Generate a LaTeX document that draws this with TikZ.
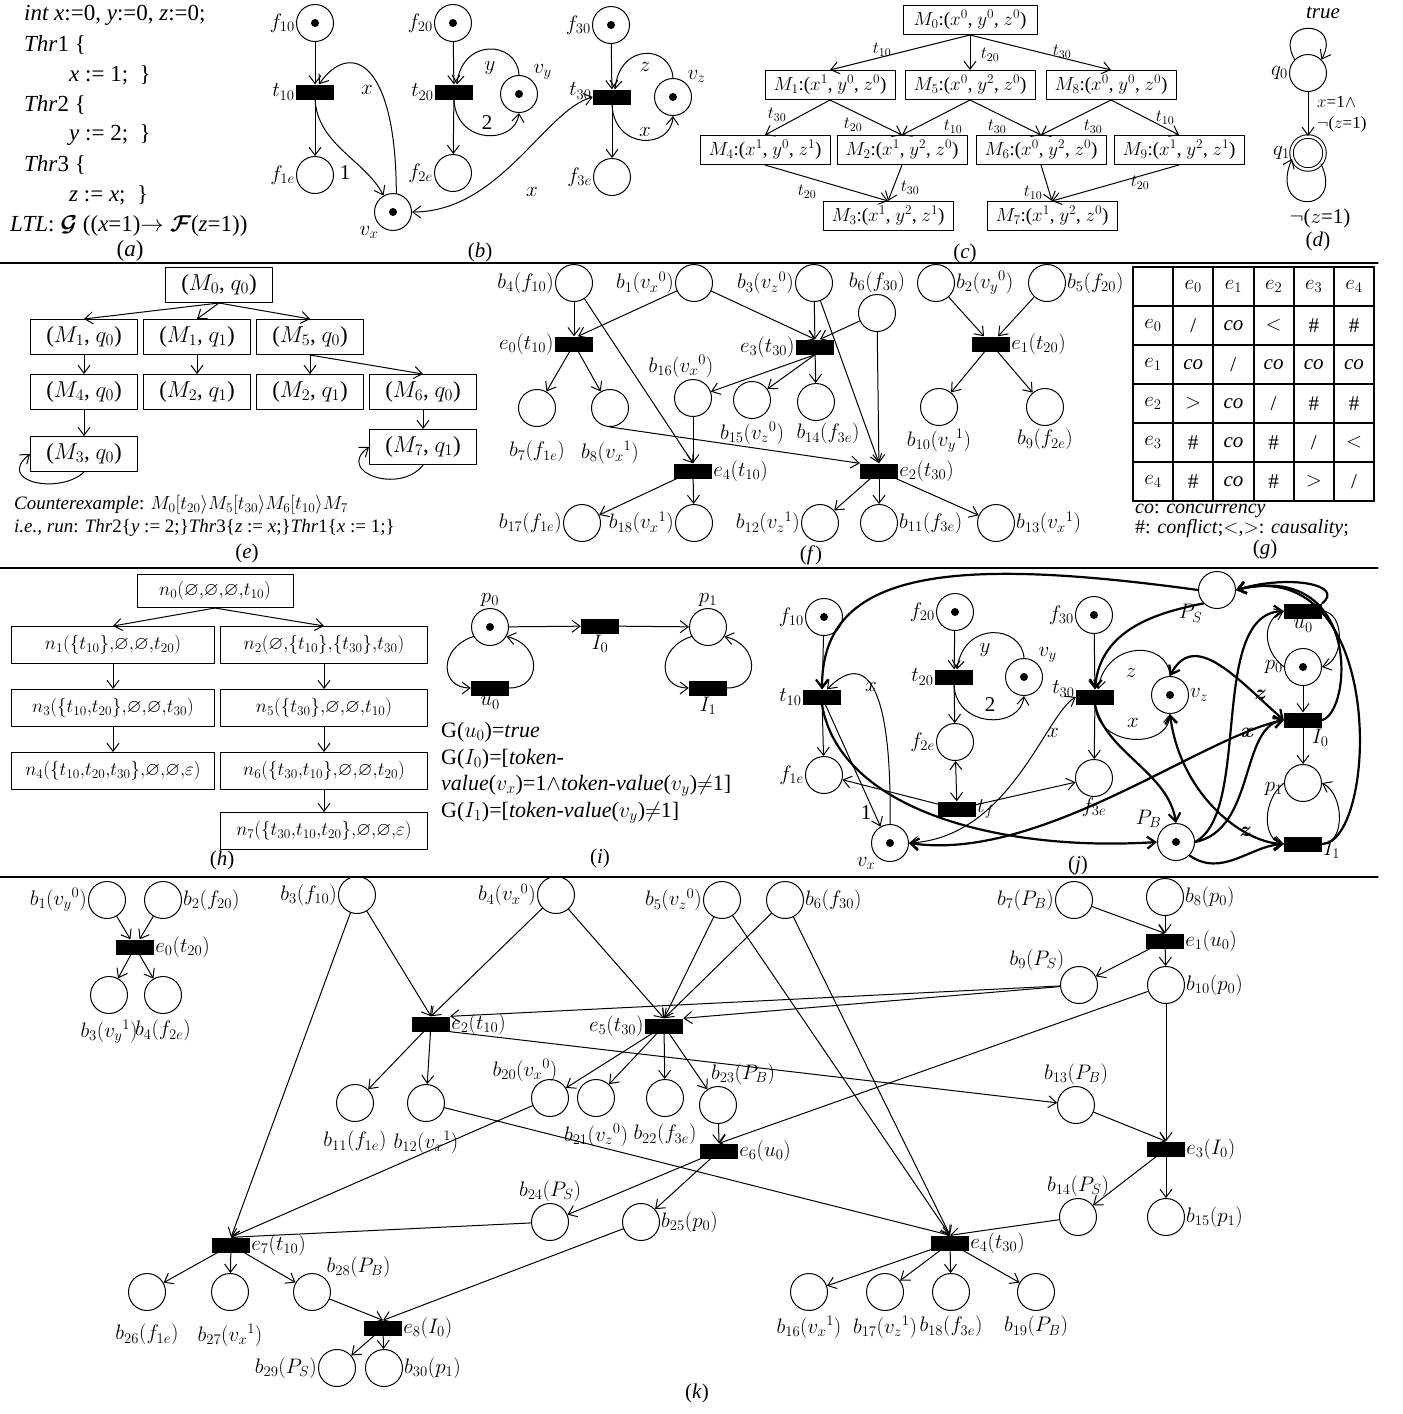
\RequirePackage{fix-cm}
\documentclass[tikz,border=0pt]{standalone}
\usepackage{amsmath,amssymb,bm}
\usepackage{fontspec}
\setmainfont{Liberation Serif}
\usetikzlibrary{arrows.meta}

\tikzset{
  place/.style={circle, draw, line width=1pt, minimum size=37pt, inner sep=0pt},
  marked/.style={place, path picture={\fill (path picture bounding box.center) circle (4pt);}},
  trans/.style={rectangle, fill=black, minimum width=38pt, minimum height=15pt, inner sep=0pt},
  mkbox/.style={rectangle, draw, line width=1pt, minimum height=29pt, inner sep=2pt},
  arc/.style={->, line width=1pt},
  bold arc/.style={->, line width=2.2pt},
  lbl/.style={inner sep=1pt},
  every label/.style={inner sep=1pt},
}

\begin{document}
\begin{tikzpicture}[x=1pt, y=-1pt, font=\fontsize{21}{25}\selectfont, line join=round, line cap=round, >={Straight Barb[length=8pt,width=12pt]}]
\useasboundingbox (0,0) rectangle (1403,1414);

% separators
\draw[line width=1.2pt] (0,263) -- (1378,263);
\draw[line width=1.2pt] (0,568) -- (1378,568);
\draw[line width=1.2pt] (0,877) -- (1378,877);

% (a) program
\begin{scope}[font=\fontsize{23}{26}\selectfont]
\node[lbl, anchor=west] (decl) at (23,15) {\textit{int x}:=0, \textit{y}:=0, \textit{z}:=0;};
\node[lbl, anchor=west] (thr1) at (23,45) {\textit{Thr}1 \{};
\node[lbl, anchor=west] (asg1) at (68,75) {\textit{x} := 1;~~\}};
\node[lbl, anchor=west] (thr2) at (23,105) {\textit{Thr}2 \{};
\node[lbl, anchor=west] (asg2) at (68,135) {\textit{y} := 2;~~\}};
\node[lbl, anchor=west] (thr3) at (23,165) {\textit{Thr}3 \{};
\node[lbl, anchor=west] (asg3) at (68,195) {\textit{z} := \textit{x};~~\}};
\node[lbl, anchor=west] (ltl) at (9,226) {\textit{LTL}: $\boldsymbol{\mathcal{G}}$ ((\textit{x}=1)$\rightarrow\boldsymbol{\mathcal{F}}$(\textit{z}=1))};
\node (capa) at (130,251) {(\textit{a})};
\end{scope}

% (b) net
\node[marked, label=left:$f_{10}$] (bf10) at (315,23) {};
\node[trans, label=left:$t_{10}$] (bt10) at (315,92) {};
\node[place, label=left:$f_{1e}$] (bf1e) at (315,175) {};
\node[marked, label={below left:$v_x$}] (bvx) at (393,212) {};
\node[marked, label=left:$f_{20}$] (bf20) at (453,23) {};
\node[trans, label=left:$t_{20}$] (bt20) at (454,92) {};
\node[marked, label={above right:$v_y$}] (bvy) at (519,94) {};
\node[place, label=left:$f_{2e}$] (bf2e) at (453,173) {};
\node[marked, label=left:$f_{30}$] (bf30) at (611,25) {};
\node[trans, label={[yshift=6pt]left:$t_{30}$}] (bt30) at (612,97) {};
\node[marked, label={above right:$v_z$}] (bvz) at (673,97) {};
\node[place, label=left:$f_{3e}$] (bf3e) at (612,177) {};
\foreach \a/\b in {bf10/bt10, bt10/bf1e, bf20/bt20, bt20/bf2e, bf30/bt30, bt30/bf3e}
  \draw[arc] (\a) -- (\b);
\draw[arc] (bvx.80) .. controls (396,60) and (350,40) .. ([xshift=4pt]bt10.north);
\draw[arc] (bt10.south) .. controls (318,145) and (365,160) .. (bvx.120);
\draw[arc] (bvy.north) .. controls (517,40) and (462,38) .. ([xshift=3pt]bt20.north);
\draw[arc] (bt20.south) .. controls (456,145) and (515,145) .. (bvy.south);
\draw[arc] (bvz.north) .. controls (671,45) and (620,42) .. ([xshift=3pt]bt30.north);
\draw[arc] (bt30.south) .. controls (614,150) and (671,150) .. (bvz.south);
\draw[<->, line width=1pt] (bvx.east) .. controls (500,212) and (545,110) .. (bt30.west);
\node[lbl] (bx1) at (367,90) {$x$};
\node[lbl] (bone) at (345,173) {1};
\node[lbl] (by) at (490,68) {$y$};
\node[lbl] (btwo) at (487,123) {2};
\node[lbl] (bz) at (645,67) {$z$};
\node[lbl] (bx2) at (645,132) {$x$};
\node[lbl] (bx3) at (532,192) {$x$};
\node (capb) at (480,252) {(\textit{b})};

% (c) state space
\begin{scope}[font=\fontsize{19}{22}\selectfont]
\node[mkbox, minimum width=134pt] (cM0) at (970,20) {$M_0$:($x^0$, $y^0$, $z^0$)};
\node[mkbox, minimum width=130pt] (cM1) at (830,85) {$M_1$:($x^1$, $y^0$, $z^0$)};
\node[mkbox, minimum width=130pt] (cM5) at (970,85) {$M_5$:($x^0$, $y^2$, $z^0$)};
\node[mkbox, minimum width=130pt] (cM8) at (1111,85) {$M_8$:($x^0$, $y^0$, $z^0$)};
\node[mkbox, minimum width=130pt] (cM4) at (765,150) {$M_4$:($x^1$, $y^0$, $z^1$)};
\node[mkbox, minimum width=130pt] (cM2) at (902,150) {$M_2$:($x^1$, $y^2$, $z^0$)};
\node[mkbox, minimum width=130pt] (cM6) at (1041,150) {$M_6$:($x^0$, $y^2$, $z^0$)};
\node[mkbox, minimum width=130pt] (cM9) at (1179,150) {$M_9$:($x^1$, $y^2$, $z^1$)};
\node[mkbox, minimum width=130pt] (cM3) at (888,216) {$M_3$:($x^1$, $y^2$, $z^1$)};
\node[mkbox, minimum width=130pt] (cM7) at (1052,216) {$M_7$:($x^1$, $y^2$, $z^0$)};
\end{scope}
\foreach \a/\b in {cM0/cM1, cM0/cM5, cM0/cM8, cM1/cM4, cM1/cM2, cM5/cM2, cM5/cM6, cM8/cM6, cM8/cM9, cM4/cM3, cM2/cM3, cM6/cM7, cM9/cM7}
  \draw[arc] (\a.south) -- (\b.north);
\begin{scope}[font=\fontsize{17}{20}\selectfont]
\node[lbl] (cl1) at (882,50) {$t_{10}$};
\node[lbl] (cl2) at (990,55) {$t_{20}$};
\node[lbl] (cl3) at (1062,52) {$t_{30}$};
\node[lbl] (cl4) at (777,115) {$t_{30}$};
\node[lbl] (cl5) at (853,125) {$t_{20}$};
\node[lbl] (cl6) at (953,127) {$t_{10}$};
\node[lbl] (cl7) at (997,127) {$t_{30}$};
\node[lbl] (cl8) at (1093,127) {$t_{30}$};
\node[lbl] (cl9) at (1165,118) {$t_{10}$};
\node[lbl] (cl10) at (807,192) {$t_{20}$};
\node[lbl] (cl11) at (910,188) {$t_{30}$};
\node[lbl] (cl12) at (1033,193) {$t_{10}$};
\node[lbl] (cl13) at (1140,183) {$t_{20}$};
\end{scope}
\node (capc) at (965,253) {(\textit{c})};

% (d) automaton
\node[place, label=left:$q_0$] (dq0) at (1308,73) {};
\node[place, double, double distance=2.5pt, minimum size=33pt, label=left:$q_1$] (dq1) at (1308,153) {};
\draw[arc] (dq0.135) .. controls (1272,18) and (1344,18) .. (dq0.45);
\draw[arc] (dq0) -- (dq1);
\draw[arc] (dq1.-40) .. controls (1345,215) and (1268,215) .. (dq1.200);
\node[lbl] (dtrue) at (1323,13) {\textit{true}};
\node[lbl, anchor=west, font=\fontsize{17}{20}\selectfont] (dg1) at (1316,102) {$x$=1$\wedge$};
\node[lbl, anchor=west, font=\fontsize{17}{20}\selectfont] (dg2) at (1316,124) {$\neg$($z$=1)};
\node[lbl] (dneg) at (1320,218) {$\neg$($z$=1)};
\node (capd) at (1318,241) {(\textit{d})};

% (e) product
\begin{scope}[font=\fontsize{23}{26}\selectfont]
\node[mkbox, minimum width=107pt, minimum height=35pt] (em0) at (219,285) {($M_0$, $q_0$)};
\node[mkbox, minimum width=107pt, minimum height=35pt] (em1) at (84,337) {($M_1$, $q_0$)};
\node[mkbox, minimum width=107pt, minimum height=35pt] (em1b) at (197,337) {($M_1$, $q_1$)};
\node[mkbox, minimum width=107pt, minimum height=35pt] (em5) at (310,337) {($M_5$, $q_0$)};
\node[mkbox, minimum width=107pt, minimum height=35pt] (em4) at (84,392) {($M_4$, $q_0$)};
\node[mkbox, minimum width=107pt, minimum height=35pt] (em2) at (197,392) {($M_2$, $q_1$)};
\node[mkbox, minimum width=107pt, minimum height=35pt] (em2b) at (310,392) {($M_2$, $q_1$)};
\node[mkbox, minimum width=107pt, minimum height=35pt] (em6) at (423,392) {($M_6$, $q_0$)};
\node[mkbox, minimum width=107pt, minimum height=35pt] (em3) at (84,454) {($M_3$, $q_0$)};
\node[mkbox, minimum width=107pt, minimum height=35pt] (em7) at (423,447) {($M_7$, $q_1$)};
\end{scope}
\foreach \a/\b in {em0/em1, em0/em1b, em0/em5, em1/em4, em1b/em2, em5/em2b, em5/em6, em4/em3, em6/em7}
  \draw[arc] (\a.south) -- (\b.north);
\draw[arc] (em3.south) .. controls (60,495) and (-5,482) .. (em3.west);
\draw[arc] (em7.south) .. controls (400,495) and (335,472) .. (em7.west);
\begin{scope}[font=\fontsize{19}{22}\selectfont]
\node[lbl, anchor=west] (ecex) at (13,505) {\textit{Counterexample}: $M_0[t_{20}\rangle M_5[t_{30}\rangle M_6[t_{10}\rangle M_7$};
\node[lbl, anchor=west] (erun) at (13,528) {\textit{i.e., run}: \textit{Thr}2\{\textit{y} := 2;\}\textit{Thr}3\{\textit{z} := \textit{x};\}\textit{Thr}1\{\textit{x} := 1;\}};
\end{scope}
\node (cape) at (247,553) {(\textit{e})};

% (f) unfolding
\node[place, label=left:$b_4(f_{10})$] (fb4) at (574,283) {};
\node[place, label=left:$b_1(v_x{}^0)$] (fb1) at (694,283) {};
\node[place, label=left:$b_3(v_z{}^0)$] (fb3) at (814,283) {};
\node[place, label=above:$b_6(f_{30})$] (fb6) at (877,313) {};
\node[place, label=right:$b_2(v_y{}^0)$] (fb2) at (936,283) {};
\node[place, label=right:$b_5(f_{20})$] (fb5) at (1047,283) {};
\node[trans, label=left:$e_0(t_{10})$] (fe0) at (574,344) {};
\node[trans, label=left:$e_3(t_{30})$] (fe3) at (815,347) {};
\node[trans, label=right:$e_1(t_{20})$] (fe1) at (991,344) {};
\node[place, label={[label distance=13pt]below:$b_7(f_{1e})$}] (fb7) at (537,408) {};
\node[place, label={[label distance=13pt]below:$b_8(v_x{}^1)$}] (fb8) at (610,408) {};
\node[place, label={[xshift=-12pt]above:$b_{16}(v_x{}^0)$}] (fb16) at (693,398) {};
\node[place, label={[label distance=2pt]below:$b_{15}(v_z{}^0)$}] (fb15) at (752,400) {};
\node[place, label={[label distance=1pt, xshift=12pt]below:$b_{14}(f_{3e})$}] (fb14) at (816,402) {};
\node[place, label={[label distance=2pt]below:$b_{10}(v_y{}^1)$}] (fb10) at (939,407) {};
\node[place, label={[label distance=2pt]below:$b_9(f_{2e})$}] (fb9) at (1045,407) {};
\node[trans, label=right:$e_4(t_{10})$] (fe4) at (693,471) {};
\node[trans, label=right:$e_2(t_{30})$] (fe2) at (879,471) {};
\node[place, label=left:$b_{17}(f_{1e})$] (fb17) at (582,523) {};
\node[place, label=left:$b_{18}(v_x{}^1)$] (fb18) at (694,523) {};
\node[place, label=left:$b_{12}(v_z{}^1)$] (fb12) at (820,523) {};
\node[place, label=right:$b_{11}(f_{3e})$] (fb11) at (879,523) {};
\node[place, label=right:$b_{13}(v_x{}^1)$] (fb13) at (996,523) {};
\foreach \a/\b in {fb4/fe0, fb4/fe4.north, fb1/fe3.north, fb3/fe3, fb3/fe2.north, fb6/fe2,
  fe0/fb7, fe0/fb8, fe3.south/fb16, fe3.south/fb15, fe3/fb14, fb16/fe4, fb8.south/fe2.north west,
  fe4/fb17, fe4/fb18, fe2/fb12, fe2/fb11, fe2/fb13, fb2/fe1, fb5/fe1, fe1/fb10, fe1/fb9}
  \draw[arc] (\a) -- (\b);
\draw[arc] (fb1) -- ([xshift=4pt]fe0.north);
\draw[arc] (fb6) -- ([xshift=5pt]fe3.north);
\node (capf) at (811,555) {(\textit{f})};

% (g) relation table
\foreach \i in {0,...,6} {
  \draw[line width=2pt] (1133+40.2*\i,267) -- (1133+40.2*\i,501);
  \draw[line width=2pt] (1133,267+39*\i) -- (1374.2,267+39*\i);
}
\foreach \c in {1,...,5} {
  \pgfmathtruncatemacro{\k}{\c-1}
  \node (gc\c) at (1153+40.2*\c,286.5) {$e_{\k}$};
  \node (gr\c) at (1153,286.5+39*\c) {$e_{\k}$};
}
\foreach \t [count=\c] in {/,\textit{co},$<$,\#,\#} \node (ga\c) at (1153+40.2*\c,325.5) {\t};
\foreach \t [count=\c] in {\textit{co},/,\textit{co},\textit{co},\textit{co}} \node (gb\c) at (1153+40.2*\c,364.5) {\t};
\foreach \t [count=\c] in {$>$,\textit{co},/,\#,\#} \node (gd\c) at (1153+40.2*\c,403.5) {\t};
\foreach \t [count=\c] in {\#,\textit{co},\#,/,$<$} \node (ge\c) at (1153+40.2*\c,442.5) {\t};
\foreach \t [count=\c] in {\#,\textit{co},\#,$>$,/} \node (gf\c) at (1153+40.2*\c,481.5) {\t};
\begin{scope}[font=\fontsize{20}{22}\selectfont]
\node[lbl, anchor=west] (gco) at (1134,511) {\textit{co}: \textit{concurrency}};
\node[lbl, anchor=west] (gcf) at (1134,529) {\#: \textit{conflict};$<$,$>$: \textit{causality};};
\end{scope}
\node (capg) at (1265,549) {(\textit{g})};

% (h) search tree
\begin{scope}[font=\fontsize{19}{22}\selectfont]
\node[mkbox, minimum width=156pt, minimum height=33pt] (hn0) at (215,591) {$n_0(\varnothing{,}\varnothing{,}\varnothing{,}t_{10})$};
\node[mkbox, minimum width=203pt, minimum height=37pt] (hn1) at (113,645) {$n_1(\{t_{10}\}{,}\varnothing{,}\varnothing{,}t_{20})$};
\node[mkbox, minimum width=207pt, minimum height=37pt] (hn2) at (324,645) {$n_2(\varnothing{,}\{t_{10}\}{,}\{t_{30}\}{,}t_{30})$};
\node[mkbox, minimum width=203pt, minimum height=37pt] (hn3) at (113,708) {$n_3(\{t_{10}{,}t_{20}\}{,}\varnothing{,}\varnothing{,}t_{30})$};
\node[mkbox, minimum width=207pt, minimum height=37pt] (hn5) at (324,708) {$n_5(\{t_{30}\}{,}\varnothing{,}\varnothing{,}t_{10})$};
\node[mkbox, minimum width=203pt, minimum height=37pt] (hn4) at (113,771) {$n_4(\{t_{10}{,}t_{20}{,}t_{30}\}{,}\varnothing{,}\varnothing{,}\varepsilon)$};
\node[mkbox, minimum width=207pt, minimum height=37pt] (hn6) at (324,771) {$n_6(\{t_{30}{,}t_{10}\}{,}\varnothing{,}\varnothing{,}t_{20})$};
\node[mkbox, minimum width=207pt, minimum height=37pt] (hn7) at (324,831) {$n_7(\{t_{30}{,}t_{10}{,}t_{20}\}{,}\varnothing{,}\varnothing{,}\varepsilon)$};
\end{scope}
\foreach \a/\b in {hn0/hn1, hn0/hn2, hn1/hn3, hn3/hn4, hn2/hn5, hn5/hn6, hn6/hn7}
  \draw[arc] (\a.south) -- (\b.north);
\node (caph) at (222,860) {(\textit{h})};

% (i) property net
\node[marked, label=above:$p_0$] (ip0) at (490,627) {};
\node[trans, label=below:$I_0$] (iI0) at (600,626) {};
\node[place, label=above:$p_1$] (ip1) at (708,627) {};
\node[trans, label=below:$u_0$] (iu0) at (490,688) {};
\node[trans, label=below:$I_1$] (iI1) at (708,688) {};
\draw[arc] (ip0) -- (iI0);
\draw[arc] (iI0) -- (ip1);
\draw[arc] (ip0.210) .. controls (438,648) and (440,688) .. (iu0.west);
\draw[arc] (iu0.east) .. controls (542,688) and (542,645) .. (ip0.-30);
\draw[arc] (ip1.210) .. controls (656,648) and (658,688) .. (iI1.west);
\draw[arc] (iI1.east) .. controls (760,688) and (760,645) .. (ip1.-30);
\begin{scope}[font=\fontsize{22}{25}\selectfont]
\node[lbl, anchor=west] (ig1) at (440,732) {G($u_0$)=\textit{true}};
\node[lbl, anchor=west] (ig2) at (440,759) {G($I_0$)=[\textit{token-}};
\node[lbl, anchor=west] (ig3) at (440,786) {\textit{value}($v_x$)=1$\wedge$\textit{token-value}($v_y$)$\neq$1]};
\node[lbl, anchor=west] (ig4) at (440,813) {G($I_1$)=[\textit{token-value}($v_y$)$\neq$1]};
\end{scope}
\node (capi) at (600,858) {(\textit{i})};

% (j) synchronised net
\node[marked, label=left:$f_{10}$] (jf10) at (824,617) {};
\node[trans, label=left:$t_{10}$] (jt10) at (822,697) {};
\node[place, label=left:$f_{1e}$] (jf1e) at (824,775) {};
\node[marked, label={below left:$v_x$}] (jvx) at (890,843) {};
\node[marked, label=left:$f_{20}$] (jf20) at (955,612) {};
\node[trans, label=left:$t_{20}$] (jt20) at (954,677) {};
\node[marked, label={above right:$v_y$}] (jvy) at (1024,677) {};
\node[place, label=left:$f_{2e}$] (jf2e) at (955,742) {};
\node[trans, label=right:$t_f$] (jtf) at (957,809) {};
\node[marked, label=left:$f_{30}$] (jf30) at (1094,615) {};
\node[trans, label={[yshift=8pt]left:$t_{30}$}] (jt30) at (1095,697) {};
\node[marked, label=right:$v_z$] (jvz) at (1170,695) {};
\node[place, label=below:$f_{3e}$] (jf3e) at (1094,778) {};
\node[place, label={below left:$P_S$}] (jPS) at (1217,590) {};
\node[trans, label=below:$u_0$] (ju0) at (1303,611) {};
\node[marked, label=left:$p_0$] (jp0) at (1303,667) {};
\node[trans, label={below right:$I_0$}] (jI0) at (1303,720) {};
\node[place, label={[yshift=-6pt]left:$p_1$}] (jp1) at (1303,783) {};
\node[trans, label={[yshift=-6pt]right:$I_1$}] (jI1) at (1303,844) {};
\node[marked, label={above left:$P_B$}] (jPB) at (1176,842) {};
\foreach \a/\b in {jf10/jt10, jt10/jf1e, jt10/jvx.120, jf20/jt20, jt20/jf2e, jtf/jf1e, jtf/jf3e, jf30/jt30, jt30/jf3e, jp0/jI0, jI0/jp1}
  \draw[arc] (\a) -- (\b);
\draw[<->, line width=1pt] (jf2e) -- (jtf);
\draw[arc] (jvx.north) .. controls (892,690) and (868,648) .. ([xshift=5pt]jt10.north);
\draw[arc] (jvy.north) .. controls (1022,625) and (964,620) .. ([xshift=3pt]jt20.north);
\draw[arc] (jt20.south) .. controls (956,728) and (1020,730) .. (jvy.south);
\draw[arc] (jvz.north) .. controls (1168,640) and (1106,640) .. ([xshift=3pt]jt30.north);
\draw[arc] (jt30.south) .. controls (1097,748) and (1168,750) .. (jvz.south);
\draw[<->, line width=1pt] (jvx.east) .. controls (1010,838) and (1045,715) .. (jt30.west);
\draw[arc] (jp0.west) .. controls (1262,650) and (1262,620) .. (ju0.west);
\draw[arc] (ju0.east) .. controls (1345,612) and (1345,660) .. (jp0.east);
\draw[arc] (jp1.west) .. controls (1262,800) and (1262,840) .. (jI1.west);
\draw[arc] (jI1.east) .. controls (1345,844) and (1345,795) .. (jp1.east);
\draw[bold arc] (jPS.west) .. controls (950,556) and (822,570) .. (jt10.north);
\draw[bold arc] (jPS.south west) .. controls (1160,612) and (1100,628) .. (jt30.north);
\draw[bold arc] (jt10.south) .. controls (840,810) and (1000,852) .. (jPB.west);
\draw[bold arc] (jt30.south) .. controls (1105,752) and (1168,772) .. (jPB.north);
\draw[bold arc] (jPB.east) .. controls (1252,812) and (1208,615) .. (ju0.west);
\draw[bold arc] (jPB.east) .. controls (1255,830) and (1240,728) .. (jI0.west);
\draw[bold arc] (jPB.south east) .. controls (1222,878) and (1250,846) .. (jI1.west);
\draw[bold arc] (ju0.north east) .. controls (1345,585) and (1290,574) .. (jPS.east);
\draw[bold arc] (jI0.east) .. controls (1352,712) and (1362,560) .. (jPS.east);
\draw[bold arc] (jI1.east) .. controls (1378,842) and (1388,552) .. (jPS.east);
\draw[<->, line width=2.2pt] (jvz.north) .. controls (1195,628) and (1240,682) .. (jI0.west);
\draw[<->, line width=2.2pt] (jvx.east) .. controls (1040,862) and (1200,738) .. (jI0.west);
\draw[<->, line width=2.2pt] (jvz.south) .. controls (1180,792) and (1240,842) .. (jI1.west);
\node[lbl] (jx1) at (871,687) {$x$};
\node[lbl] (jone) at (866,813) {1};
\node[lbl] (jy) at (985,650) {$y$};
\node[lbl] (jtwo) at (990,705) {2};
\node[lbl] (jz) at (1131,673) {$z$};
\node[lbl] (jx2) at (1133,723) {$x$};
\node[lbl] (jx3) at (1053,733) {$x$};
\node[lbl] (jz1) at (1261,695) {$\boldsymbol{z}$};
\node[lbl] (jx4) at (1248,733) {$\boldsymbol{x}$};
\node[lbl] (jz2) at (1246,832) {$\boldsymbol{z}$};
\node (capj) at (1078,865) {(\textit{j})};

% (k) product unfolding
\node[place, label=left:$b_1(v_y{}^0)$] (kb1) at (107,900) {};
\node[place, label=right:$b_2(f_{20})$] (kb2) at (163,900) {};
\node[trans, label=right:$e_0(t_{20})$] (ke0) at (135,947) {};
\node[place, label={[label distance=5pt]below:$b_3(v_y{}^1)$}] (kb3) at (109,995) {};
\node[place, label={[label distance=5pt]below:$b_4(f_{2e})$}] (kb4) at (163,995) {};
\node[place, label=left:$b_3(f_{10})$] (kf10) at (357,895) {};
\node[place, label=left:$b_4(v_x{}^0)$] (kvx0) at (556,895) {};
\node[place, label=left:$b_5(v_z{}^0)$] (kvz0) at (722,900) {};
\node[place, label=right:$b_6(f_{30})$] (kb6) at (785,900) {};
\node[place, label=left:$b_7(P_B)$] (kb7) at (1074,900) {};
\node[place, label=right:$b_8(p_0)$] (kb8) at (1165,897) {};
\node[trans, label=right:$e_1(u_0)$] (ke1) at (1165,941) {};
\node[place, label={above left:$b_9(P_S)$}] (kb9) at (1079,985) {};
\node[place, label=right:$b_{10}(p_0)$] (kb10) at (1166,985) {};
\node[trans, label=right:$e_2(t_{10})$] (ke2) at (431,1024) {};
\node[trans, label=left:$e_5(t_{30})$] (ke5) at (664,1026) {};
\node[place, label={[label distance=8pt]below:$b_{11}(f_{1e})$}] (kb11) at (355,1103) {};
\node[place, label={[label distance=8pt]below:$b_{12}(v_x{}^1)$}] (kb12) at (426,1103) {};
\node[place, label={[xshift=-25pt, label distance=-4pt]above:$b_{20}(v_x{}^0)$}] (kb20) at (550,1098) {};
\node[place, label={[label distance=6pt]below:$b_{21}(v_z{}^0)$}] (kb21) at (596,1098) {};
\node[place, label={[label distance=6pt]below:$b_{22}(f_{3e})$}] (kb22) at (665,1098) {};
\node[place, label={[xshift=25pt]above:$b_{23}(P_B)$}] (kb23) at (718,1105) {};
\node[place, label=above:$b_{13}(P_B)$] (kb13) at (1076,1105) {};
\node[trans, label=right:$e_6(u_0)$] (ke6) at (719,1151) {};
\node[trans, label=right:$e_3(I_0)$] (ke3) at (1166,1149) {};
\node[place, label=above:$b_{24}(P_S)$] (kb24) at (550,1222) {};
\node[place, label=right:$b_{25}(p_0)$] (kb25) at (641,1222) {};
\node[place, label=above:$b_{14}(P_S)$] (kb14) at (1078,1217) {};
\node[place, label=right:$b_{15}(p_1)$] (kb15) at (1166,1217) {};
\node[trans, label=right:$e_7(t_{10})$] (ke7) at (231,1245) {};
\node[trans, label=right:$e_4(t_{30})$] (ke4) at (950,1243) {};
\node[place, label={[label distance=12pt]below:$b_{26}(f_{1e})$}] (kb26) at (147,1292) {};
\node[place, label={[label distance=12pt]below:$b_{27}(v_x{}^1)$}] (kb27) at (230,1292) {};
\node[place, label={above right:$b_{28}(P_B)$}] (kb28) at (312,1292) {};
\node[trans, label=right:$e_8(I_0)$] (ke8) at (383,1328) {};
\node[place, label=left:$b_{29}(P_S)$] (kb29) at (337,1368) {};
\node[place, label=right:$b_{30}(p_1)$] (kb30) at (384,1368) {};
\node[place, label={[label distance=4pt]below:$b_{16}(v_x{}^1)$}] (kb16) at (809,1292) {};
\node[place, label={[label distance=4pt]below:$b_{17}(v_z{}^1)$}] (kb17) at (885,1292) {};
\node[place, label={[label distance=4pt]below:$b_{18}(f_{3e})$}] (kb18) at (951,1292) {};
\node[place, label={[label distance=4pt]below:$b_{19}(P_B)$}] (kb19) at (1036,1292) {};
\foreach \a/\b in {kb1/ke0, kb2/ke0, ke0/kb3, ke0/kb4, kf10/ke2.north, kvx0/ke2.north, kvx0/ke5.north,
  kvz0/ke5.north, kvz0/ke4.north, kb6/ke5.north, kb6/ke4.north, kb7/ke1.north, kb8/ke1, ke1/kb9, ke1/kb10,
  kb9/ke2.north east, kb9/ke5.north east, kb10/ke6.north, kb10/ke3, ke2/kb11, ke2/kb12, ke2.south east/kb13,
  ke5/kb20, ke5/kb21, ke5/kb22, ke5/kb23, kb23/ke6.north, ke6/kb24, ke6/kb25, kb12/ke4.north,
  kf10/ke7.north, kb20/ke7.north, kb24/ke7.north, kb25/ke8.north, ke7/kb26, ke7/kb27, ke7/kb28,
  kb28/ke8.north, ke8/kb29, ke8/kb30, kb13/ke3.north, ke3/kb14, ke3/kb15, kb14/ke4.north,
  ke4/kb16, ke4/kb17, ke4/kb18, ke4/kb19}
  \draw[arc] (\a) -- (\b);
\node (capk) at (697,1393) {(\textit{k})};
\end{tikzpicture}
\end{document}
